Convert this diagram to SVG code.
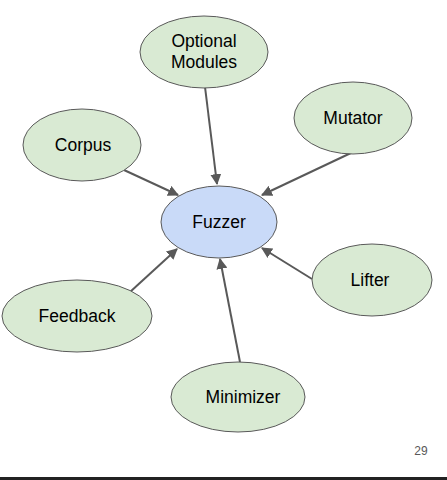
<svg xmlns="http://www.w3.org/2000/svg" width="447" height="480" viewBox="0 0 447 480">
  <defs>
    <marker id="arrow" viewBox="0 0 10 10" refX="9" refY="5" markerWidth="5.5" markerHeight="5.5" orient="auto" markerUnits="strokeWidth">
      <path d="M0,0 L10,5 L0,10 z" fill="#595959"/>
    </marker>
  </defs>
  <style>
    .module { fill: #d9ead3; stroke: #595959; stroke-width: 1; }
    .core { fill: #c9daf8; stroke: #595959; stroke-width: 1; }
    .label { font-family: "Liberation Sans", Arial, sans-serif; font-size: 17.5px; fill: #000; text-anchor: middle; }
    .edge { stroke: #595959; stroke-width: 2; fill: none; marker-end: url(#arrow); }
  </style>
  <rect width="447" height="480" fill="#ffffff"/>

  <g id="connectors">
    <line class="edge" x1="205" y1="87" x2="217" y2="184"/>
    <line class="edge" x1="353" y1="152" x2="262" y2="195"/>
    <line class="edge" x1="124" y1="170" x2="178" y2="195"/>
    <line class="edge" x1="130" y1="292" x2="177" y2="249"/>
    <line class="edge" x1="240" y1="362" x2="220" y2="259"/>
    <line class="edge" x1="312" y1="279" x2="262" y2="248"/>
  </g>

  <g id="fuzzer">
    <ellipse class="core" cx="219" cy="222" rx="58" ry="36"/>
    <text class="label" x="219" y="228">Fuzzer</text>
  </g>
  <g id="optional-modules">
    <ellipse class="module" cx="204" cy="52" rx="64" ry="36"/>
    <text class="label" x="204" y="47">Optional</text>
    <text class="label" x="204" y="68">Modules</text>
  </g>
  <g id="mutator">
    <ellipse class="module" cx="353" cy="118" rx="59" ry="36"/>
    <text class="label" x="353" y="124">Mutator</text>
  </g>
  <g id="corpus">
    <ellipse class="module" cx="82" cy="145" rx="59" ry="36"/>
    <text class="label" x="83" y="151">Corpus</text>
  </g>
  <g id="lifter">
    <ellipse class="module" cx="372" cy="280" rx="60" ry="36"/>
    <text class="label" x="370" y="286">Lifter</text>
  </g>
  <g id="feedback">
    <ellipse class="module" cx="77" cy="316" rx="75" ry="36"/>
    <text class="label" x="77" y="322">Feedback</text>
  </g>
  <g id="minimizer">
    <ellipse class="module" cx="238" cy="397" rx="67" ry="35"/>
    <text class="label" x="243" y="403">Minimizer</text>
  </g>

  <text x="421" y="455" font-family="Liberation Sans, Arial, sans-serif" font-size="12" fill="#595959" text-anchor="middle">29</text>
  <rect x="0" y="477" width="447" height="3" fill="#222222"/>
</svg>
